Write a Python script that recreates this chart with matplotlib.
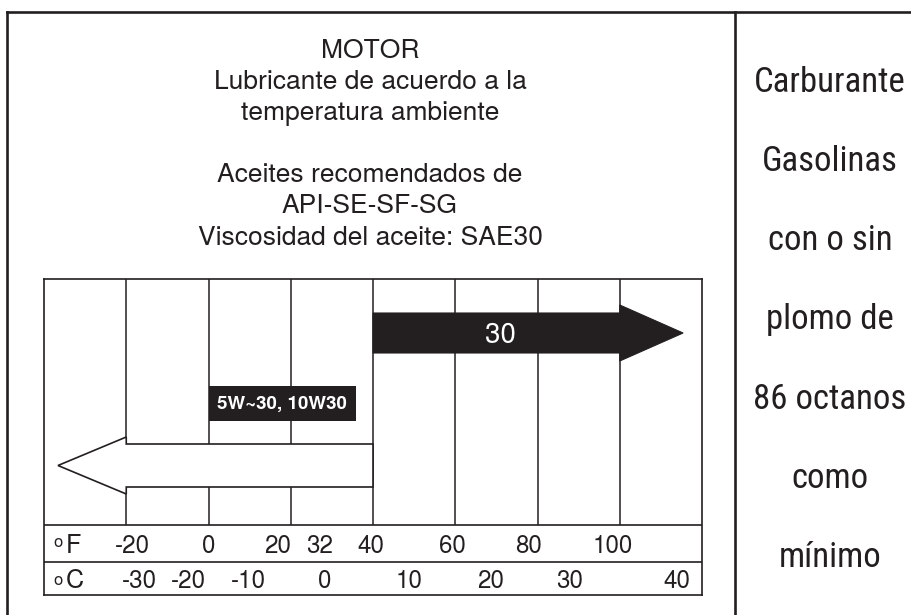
import matplotlib
matplotlib.use("Agg")
import matplotlib.pyplot as plt
from matplotlib.patches import Polygon, Rectangle
from matplotlib import font_manager

# ---------------- data ----------------
title_lines = ["MOTOR", "Lubricante de acuerdo a la", "temperatura ambiente", "",
               "Aceites recomendados de", "API-SE-SF-SG", "Viscosidad del aceite: SAE30"]
fuel_lines = ["Carburante", "Gasolinas", "con o sin", "plomo de", "86 octanos", "como", "mínimo"]

grid_f = [-20, 0, 20, 40, 60, 80, 100]                 # vertical lines (°F)
f_labels = ["-20", "0", "20", "32", "40", "60", "80", "100"]
c_labels = ["-30", "-20", "-10", "0", "10", "20", "30", "40"]

sae30_range = (40, 100, 115.4)        # start, head base, tip (°F)
multi_range = (40, -20, -36.6)        # start, head base, tip (°F)
sae30_label = "30"
multi_label = "5W~30, 10W30"
multi_box = (0, 35.8)                 # label box extent (°F)

# ---------------- layout ----------------
f_label_pos = [-18.4, 0.1, 16.9, 27.1, 39.5, 59.2, 77.7, 98.4]
c_label_pos = [-16.9, -5.0, 9.8, 28.3, 48.7, 68.5, 87.9, 113.9]

INK = "#231f20"
ttf = font_manager.fontManager.ttflist


def have(name, stretch=None):
    for f in ttf:
        if f.name == name and f.style == "normal" and (stretch is None or f.stretch == stretch):
            return True
    return False


main_font = "DejaVu Sans"
for cand in ["Nimbus Sans", "TeX Gyre Heros", "Liberation Sans", "Arimo"]:
    if have(cand):
        main_font = cand
        break

narrow = None
for cand in ["Nimbus Sans Narrow", "Liberation Sans Narrow", "Roboto Condensed",
             "Archivo Narrow", "PT Sans Narrow", "Arial Narrow", "Pragati Narrow"]:
    if have(cand):
        narrow = dict(family=cand)
        break
if narrow is None:
    for cand in ["Roboto", "Open Sans", "Noto Sans", "DejaVu Sans"]:
        if have(cand, "condensed"):
            narrow = dict(family=cand, fontstretch="condensed")
            break
fuel_size = 25
if narrow is None:
    narrow = dict(family=main_font)
    fuel_size = 20

W, H = 911, 615
fig = plt.figure(figsize=(W / 100, H / 100), dpi=100)

bg = fig.add_axes([0, 0, 1, 1])
bg.set_xlim(0, W)
bg.set_ylim(H, 0)
bg.axis("off")

# outer frame
bg.plot([7, 7], [12, H], color=INK, lw=1.9, solid_capstyle="projecting")
bg.plot([7, W], [12, 12], color=INK, lw=1.9, solid_capstyle="projecting")
bg.plot([735, 735], [12, H], color=INK, lw=1.9)

# title text
title_base = [58, 89, 120, 151, 182, 213, 245]
for txt, yb in zip(title_lines, title_base):
    if txt:
        bg.text(370, yb, txt, ha="center", va="baseline", fontsize=19,
                family=main_font, color=INK)

# fuel text
fuel_base = [92, 171, 250, 329, 409, 488, 567]
for txt, yb in zip(fuel_lines, fuel_base):
    bg.text(830, yb, txt, ha="center", va="baseline", fontsize=fuel_size,
            color=INK, **narrow)

# ---------------- chart box ----------------
ax = fig.add_axes([44 / W, (H - 595) / H, 658 / W, 316 / H])
ax.set_xlim(-40, 120)
ax.set_ylim(595, 279)
ax.set_xticks([])
ax.set_yticks([])
for s in ax.spines.values():
    s.set_linewidth(1.2)
    s.set_color(INK)

ax.vlines(grid_f, 279, 525, color=INK, lw=1.1, zorder=1)
ax.hlines([525, 562], -40, 120, color=INK, lw=1.2, zorder=1)

# black SAE30 arrow
s0, hb, tip = sae30_range
yc, bh, hh = 333, 20, 28
black = Polygon([(s0, yc - bh), (hb, yc - bh), (hb, yc - hh), (tip, yc),
                 (hb, yc + hh), (hb, yc + bh), (s0, yc + bh)],
                closed=True, facecolor=INK, edgecolor=INK, lw=0.8, zorder=3)
ax.add_patch(black)
ax.text((s0 + hb) / 2 + 1, 343, sae30_label, ha="center", va="baseline",
        fontsize=20, color="white", family=main_font, zorder=4)

# white multigrade arrow
s0, hb, tip = multi_range
yc, bh, hh = 465.5, 21.5, 28.5
white = Polygon([(s0, yc - bh), (hb, yc - bh), (hb, yc - hh), (tip, yc),
                 (hb, yc + hh), (hb, yc + bh), (s0, yc + bh)],
                closed=True, facecolor="white", edgecolor=INK, lw=1.2, zorder=3)
ax.add_patch(white)

ax.add_patch(Rectangle((multi_box[0], 386), multi_box[1] - multi_box[0], 35,
                       facecolor=INK, edgecolor="none", zorder=3))
ax.text((multi_box[0] + multi_box[1]) / 2, 409, multi_label, ha="center", va="baseline",
        fontsize=13.5, fontweight="bold", color="white", family=main_font, zorder=4)

# temperature table
ax.text(-37.8, 547, "o", fontsize=12, ha="left", va="baseline", color=INK, family=main_font)
ax.text(-34.6, 553, "F", fontsize=18, ha="left", va="baseline", color=INK, family=main_font)
ax.text(-37.8, 585, "o", fontsize=12, ha="left", va="baseline", color=INK, family=main_font)
ax.text(-34.6, 588, "C", fontsize=18, ha="left", va="baseline", color=INK, family=main_font)

for lab, x in zip(f_labels, f_label_pos):
    ax.text(x, 553, lab, ha="center", va="baseline", fontsize=17.5, color=INK, family=main_font)
for lab, x in zip(c_labels, c_label_pos):
    ax.text(x, 588, lab, ha="center", va="baseline", fontsize=17.5, color=INK, family=main_font)

fig.savefig("out.png", dpi=100, facecolor="white")
